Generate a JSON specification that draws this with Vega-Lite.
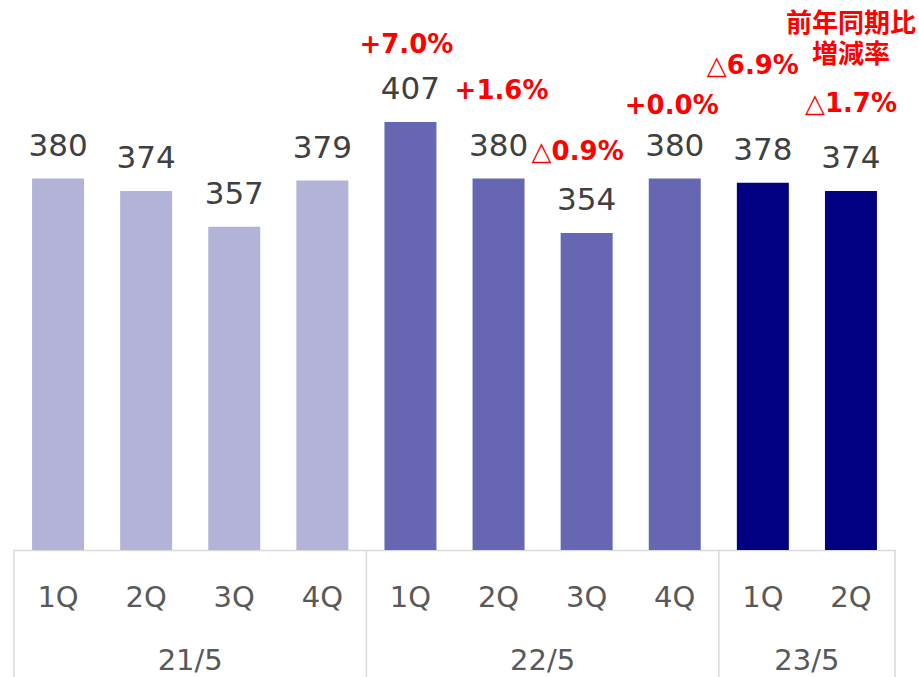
{
  "$schema": "https://vega.github.io/schema/vega-lite/v6.json",
  "width": 881,
  "height": 550,
  "autosize": {"type": "none"},
  "padding": {"left": 14, "right": 24, "top": 0, "bottom": 127},
  "background": "white",
  "config": {"view": {"stroke": null}},
  "data": {
    "values": [
      {"key": "21/5-1Q", "year": "21/5", "q": "1Q", "value": 380, "change": null},
      {"key": "21/5-2Q", "year": "21/5", "q": "2Q", "value": 374, "change": null},
      {"key": "21/5-3Q", "year": "21/5", "q": "3Q", "value": 357, "change": null},
      {"key": "21/5-4Q", "year": "21/5", "q": "4Q", "value": 379, "change": null},
      {"key": "22/5-1Q", "year": "22/5", "q": "1Q", "value": 407, "change": "+7.0%"},
      {"key": "22/5-2Q", "year": "22/5", "q": "2Q", "value": 380, "change": "+1.6%"},
      {"key": "22/5-3Q", "year": "22/5", "q": "3Q", "value": 354, "change": "△0.9%"},
      {"key": "22/5-4Q", "year": "22/5", "q": "4Q", "value": 380, "change": "+0.0%"},
      {"key": "23/5-1Q", "year": "23/5", "q": "1Q", "value": 378, "change": "△6.9%"},
      {"key": "23/5-2Q", "year": "23/5", "q": "2Q", "value": 374, "change": "△1.7%"}
    ]
  },
  "encoding": {
    "x": {
      "field": "key",
      "type": "nominal",
      "sort": null,
      "scale": {"paddingInner": 0, "paddingOuter": 0},
      "axis": {
        "title": null,
        "labelExpr": "split(datum.value, '-')[1]",
        "labelAngle": 0,
        "ticks": false,
        "grid": false,
        "domainColor": "#D9D9D9",
        "domainWidth": 1.5,
        "labelFont": "DejaVu Sans",
        "labelFontSize": 29,
        "labelColor": "#595959",
        "labelBaseline": "alphabetic",
        "labelPadding": 56
      }
    }
  },
  "layer": [
    {
      "mark": {"type": "bar", "width": {"band": 0.59}},
      "encoding": {
        "y": {"field": "value", "type": "quantitative", "scale": {"domain": [202.6, 465.25], "nice": false, "zero": false}, "axis": null},
        "y2": {"datum": 202.6},
        "color": {"field": "year", "type": "nominal", "scale": {"domain": ["21/5", "22/5", "23/5"], "range": ["#B3B3D9", "#6666B3", "#000080"]}, "legend": null}
      }
    },
    {
      "mark": {"type": "text", "baseline": "alphabetic", "dy": -23, "font": "DejaVu Sans", "fontSize": 31, "color": "#404040"},
      "encoding": {
        "y": {"field": "value", "type": "quantitative"},
        "text": {"field": "value", "type": "quantitative"}
      }
    },
    {
      "transform": [{"filter": "datum.change != null"}],
      "mark": {
        "type": "text",
        "baseline": "middle",
        "dy": {"expr": "datum.key == '22/5-1Q' ? -77 : datum.key == '22/5-2Q' ? -88 : datum.key == '22/5-3Q' ? -81 : datum.key == '22/5-4Q' ? -73 : datum.key == '23/5-1Q' ? -117 : -87"},
        "dx": {"expr": "datum.key == '22/5-1Q' ? -4 : datum.key == '22/5-2Q' ? 3 : datum.key == '22/5-3Q' ? -9 : datum.key == '22/5-4Q' ? -3 : datum.key == '23/5-1Q' ? -10 : 0"},
        "font": "DejaVu Sans",
        "fontWeight": "bold",
        "fontSize": 26,
        "color": "#FF0000"
      },
      "encoding": {
        "y": {"field": "value", "type": "quantitative"},
        "text": {"field": "change", "type": "nominal"}
      }
    },
    {
      "transform": [{"filter": "datum.q == '1Q'"}],
      "mark": {"type": "rule", "color": "#D9D9D9", "strokeWidth": 1.5},
      "encoding": {
        "x": {"field": "key", "type": "nominal", "sort": null, "bandPosition": 0},
        "y": {"datum": 202.6},
        "y2": {"datum": 142}
      }
    },
    {
      "transform": [{"filter": "datum.key == '23/5-2Q'"}],
      "mark": {"type": "rule", "color": "#D9D9D9", "strokeWidth": 1.5},
      "encoding": {
        "x": {"field": "key", "type": "nominal", "sort": null, "bandPosition": 1},
        "y": {"datum": 202.6},
        "y2": {"datum": 142}
      }
    },
    {
      "transform": [{"filter": "datum.key == '21/5-3Q' || datum.key == '22/5-3Q' || datum.key == '23/5-2Q'"}],
      "mark": {"type": "text", "baseline": "alphabetic", "font": "DejaVu Sans", "fontSize": 29, "color": "#595959"},
      "encoding": {
        "x": {"field": "key", "type": "nominal", "sort": null, "bandPosition": 0},
        "y": {"datum": 145.3},
        "text": {"field": "year", "type": "nominal"}
      }
    },
    {
      "transform": [{"filter": "datum.key == '23/5-2Q'"}],
      "mark": {"type": "text", "baseline": "middle", "font": "Noto Sans CJK JP", "fontWeight": "bold", "fontSize": 26, "color": "#FF0000"},
      "encoding": {
        "y": {"datum": 453.8},
        "text": {"value": "前年同期比"}
      }
    },
    {
      "transform": [{"filter": "datum.key == '23/5-2Q'"}],
      "mark": {"type": "text", "baseline": "middle", "font": "Noto Sans CJK JP", "fontWeight": "bold", "fontSize": 26, "color": "#FF0000"},
      "encoding": {
        "y": {"datum": 439.0},
        "text": {"value": "増減率"}
      }
    }
  ]
}
